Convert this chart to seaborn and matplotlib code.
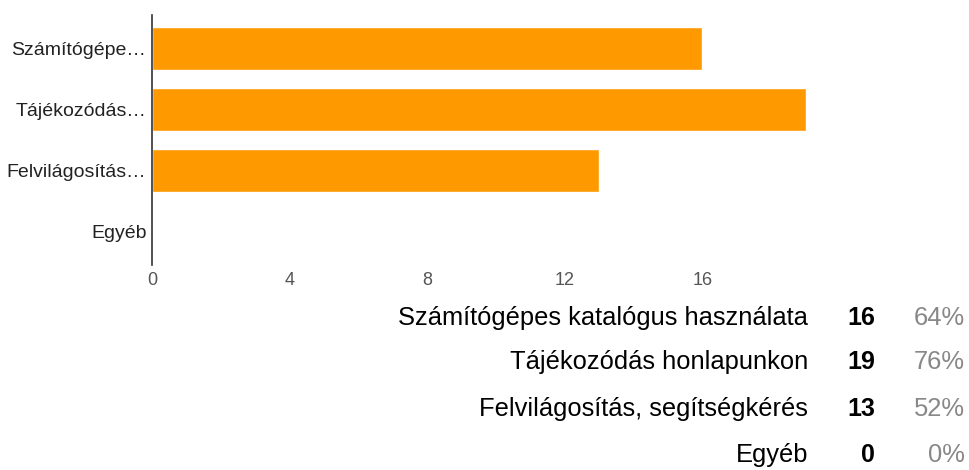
import matplotlib
matplotlib.use("Agg")
import matplotlib.pyplot as plt
import seaborn as sns
import pandas as pd

# adatok
full_labels = ["Számítógépes katalógus használata", "Tájékozódás honlapunkon",
               "Felvilágosítás, segítségkérés", "Egyéb"]
short_labels = ["Számítógépe…", "Tájékozódás…", "Felvilágosítás…", "Egyéb"]
counts = [16, 19, 13, 0]
percents = ["64%", "76%", "52%", "0%"]
x_ticks = [0, 4, 8, 12, 16]

df = pd.DataFrame({"label": short_labels, "count": counts})

sns.set_style("white")
plt.rcParams["font.family"] = ["Liberation Sans", "DejaVu Sans"]

fig = plt.figure(figsize=(9.7, 4.7), dpi=100)
ax = fig.add_axes([152 / 970, 1 - 265 / 470, (840 - 152) / 970, 250 / 470])

sns.barplot(data=df, x="count", y="label", orient="h", color="#FF9900",
            saturation=1, width=0.7, ax=ax)

ax.set_xlim(0, 20)
ax.set_ylim(3.55, -0.55)
ax.set_xticks(x_ticks)
ax.set_xlabel("")
ax.set_ylabel("")
for s in ["top", "right", "bottom"]:
    ax.spines[s].set_visible(False)
ax.spines["left"].set_color("#333333")
ax.spines["left"].set_linewidth(1.2)
ax.tick_params(axis="y", length=0, labelsize=14, labelcolor="#222222", pad=4)
ax.tick_params(axis="x", length=0, labelsize=13, labelcolor="#555555", pad=5)

# táblázat a diagram alatt
row_y = [318, 362, 409, 455]
for lab, c, p, yy in zip(full_labels, counts, percents, row_y):
    yf = 1 - yy / 470
    fig.text(808 / 970, yf, lab, ha="right", va="center", fontsize=18.4, color="#000000")
    fig.text(875 / 970, yf, str(c), ha="right", va="center", fontsize=18,
             fontweight="bold", color="#000000")
    fig.text(965 / 970, yf, p, ha="right", va="center", fontsize=18.4, color="#888888")

fig.savefig("out.png", dpi=100)
